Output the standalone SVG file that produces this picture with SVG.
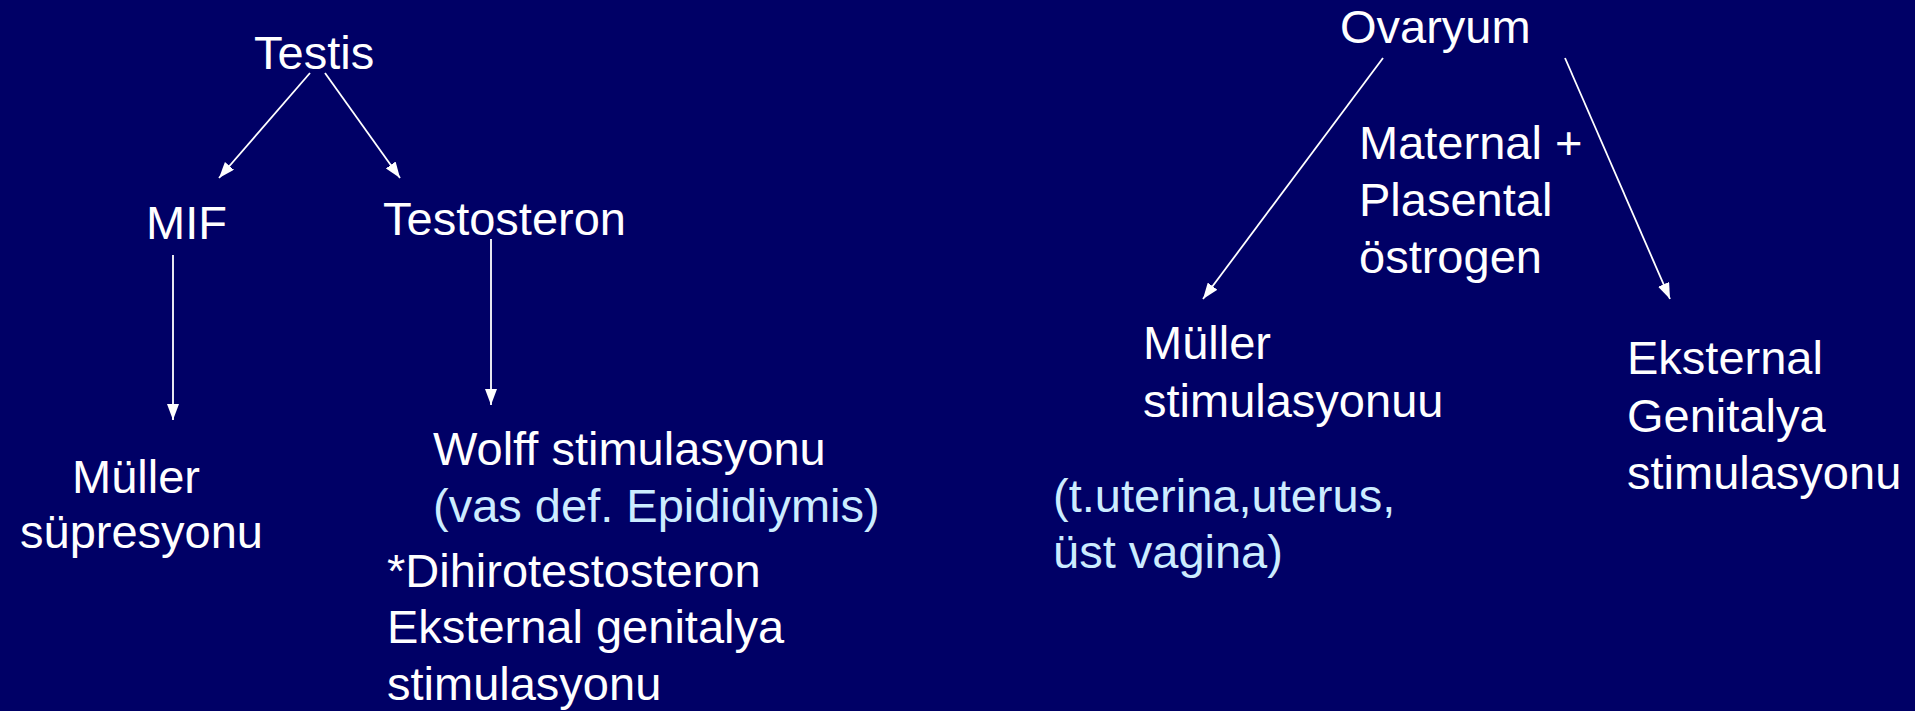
<svg xmlns="http://www.w3.org/2000/svg" width="1915" height="711" viewBox="0 0 1915 711">
<style>
text{font-family:"Liberation Sans",Arial,sans-serif;font-size:47px;fill:#FFFFFF}
.b{fill:#CCECFF}
.c{stroke:#FFFFFF;stroke-width:1.8;fill:none}
</style>
<defs>
<marker id="ah" viewBox="0 0 16 12" refX="16" refY="6" markerWidth="16" markerHeight="12" markerUnits="userSpaceOnUse" orient="auto">
<path d="M0,0 L16,6 L0,12 z" fill="#FFFFFF"/>
</marker>
</defs>
<rect width="1915" height="711" fill="#000066"/>
<g id="connectors">
<line class="c" x1="310" y1="73" x2="219" y2="178" marker-end="url(#ah)"/>
<line class="c" x1="325" y1="73" x2="400" y2="178" marker-end="url(#ah)"/>
<line class="c" x1="173" y1="255" x2="173" y2="420" marker-end="url(#ah)"/>
<line class="c" x1="491" y1="239" x2="491" y2="405" marker-end="url(#ah)"/>
<line class="c" x1="1383" y1="58" x2="1203" y2="299" marker-end="url(#ah)"/>
<line class="c" x1="1565" y1="58" x2="1670" y2="299" marker-end="url(#ah)"/>
</g>
<g id="testis"><text x="254" y="69">Testis</text></g>
<g id="mif"><text x="146" y="239">MIF</text></g>
<g id="testosteron"><text x="383" y="235">Testosteron</text></g>
<g id="muller-supresyonu"><text x="72" y="493">Müller</text><text x="20" y="548">süpresyonu</text></g>
<g id="wolff"><text x="433" y="465">Wolff stimulasyonu</text><text class="b" x="433" y="522">(vas def. Epididiymis)</text></g>
<g id="dht"><text x="387" y="587">*Dihirotestosteron</text><text x="387" y="643">Eksternal genitalya</text><text x="387" y="700">stimulasyonu</text></g>
<g id="ovaryum"><text x="1340" y="43">Ovaryum</text></g>
<g id="ostrogen"><text x="1359" y="159">Maternal +</text><text x="1359" y="216">Plasental</text><text x="1359" y="273">östrogen</text></g>
<g id="muller-stim"><text x="1143" y="359">Müller</text><text x="1143" y="417">stimulasyonuu</text><text class="b" x="1053" y="512">(t.uterina,uterus,</text><text class="b" x="1053" y="568">üst vagina)</text></g>
<g id="eksternal"><text x="1627" y="374">Eksternal</text><text x="1627" y="432">Genitalya</text><text x="1627" y="489">stimulasyonu</text></g>
</svg>
